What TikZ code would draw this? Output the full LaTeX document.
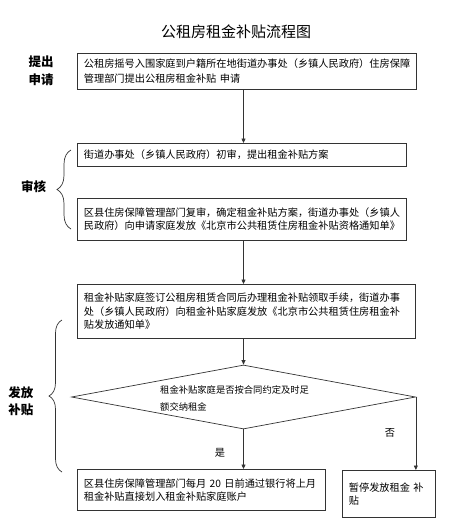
\documentclass[tikz,border=0pt]{standalone}
\usepackage{fontspec}
\setmainfont{Noto Sans CJK SC}
\usetikzlibrary{shapes.geometric,arrows.meta,decorations.pathreplacing}
\begin{document}
\begin{tikzpicture}[x=1pt,y=-1pt,
  line/.style={draw=black!80, line width=0.7pt},
  box/.style={line, rectangle, anchor=north west, inner xsep=6.5pt, inner ysep=0pt, align=left, font=\fontsize{10.2}{13.5}\selectfont},
  arr/.style={draw=black!80, line width=0.7pt, -{Triangle[length=4.5pt,width=4pt]}},
  side/.style={font=\fontsize{12.5}{18}\selectfont\bfseries, align=center, inner sep=0pt},
  curly/.style={draw=black!80, line width=0.7pt, decorate, decoration={brace, amplitude=#1}},
  lab/.style={font=\fontsize{10.2}{12}\selectfont, inner sep=0pt}]
\useasboundingbox (0,0) rectangle (450,531);
\coordinate (ax) at (243.5,0);
\node[font=\fontsize{15}{18}\selectfont] (t) at (236,32) {公租房租金补贴流程图};
\node[box, minimum width=339pt, minimum height=36pt, text width=326pt, font=\fontsize{10.2}{15}\selectfont] (b1) at (77,53)
  {公租房摇号入围家庭到户籍所在地街道办事处（乡镇人民政府）住房保障\\管理部门提出公租房租金补贴~申请};
\node[box, minimum width=329pt, minimum height=23pt, text width=316pt] (b2) at (77,143)
  {街道办事处（乡镇人民政府）初审，提出租金补贴方案};
\node[box, minimum width=329pt, minimum height=42pt, text width=316pt, font=\fontsize{10.2}{12.7}\selectfont] (b3) at (77,198)
  {区县住房保障管理部门复审，确定租金补贴方案，街道办事处（乡镇人\\民政府）向申请家庭发放《北京市公共租赁住房租金补贴资格通知单》};
\node[box, minimum width=338pt, minimum height=54pt, text width=325pt] (b4) at (77,284)
  {租金补贴家庭签订公租房租赁合同后办理租金补贴领取手续，街道办事\\处（乡镇人民政府）向租金补贴家庭发放《北京市公共租赁住房租金补\\贴发放通知单》};
\node[line, diamond, minimum width=344pt, minimum height=64pt, inner sep=0pt] (d) at (243.5,397) {};
\node[font=\fontsize{9.3}{17}\selectfont, align=left, anchor=west, inner sep=0pt] (dt) at (160,398.5)
  {租金补贴家庭是否按合同约定及时足\\额交纳租金};
\node[box, minimum width=248pt, minimum height=41pt, text width=235pt, font=\fontsize{10.2}{13.3}\selectfont] (b5) at (77,469)
  {区县住房保障管理部门每月~20~日前通过银行将上月\\租金补贴直接划入租金补贴家庭账户};
\node[box, minimum width=93pt, minimum height=47pt, text width=80pt, font=\fontsize{10.2}{13}\selectfont] (b6) at (342,470)
  {暂停发放租金~补\\贴};
\draw[arr] (b1.south -| ax) -- (b2.north -| ax);
\draw[arr] (b3.south -| ax) -- (b4.north -| ax);
\draw[arr] (b4.south -| ax) -- (d.north);
\draw[arr] (d.south) -- (d.south |- b5.north);
\draw[arr] (d.east) -- (d.east |- b6.north);
\node[lab] (yes) at (220,453) {是};
\node[lab] (no) at (390,433) {否};
\draw[curly=14pt] (71,229) -- (71,150);
\draw[curly=13pt] (62,472) -- (62,320);
\node[side] (l1) at (41,71) {提出\\申请};
\node[side] (l2) at (33.5,187) {审核};
\node[side, font=\fontsize{12.5}{17}\selectfont\bfseries] (l3) at (21,401) {发放\\补贴};
\end{tikzpicture}
\end{document}
